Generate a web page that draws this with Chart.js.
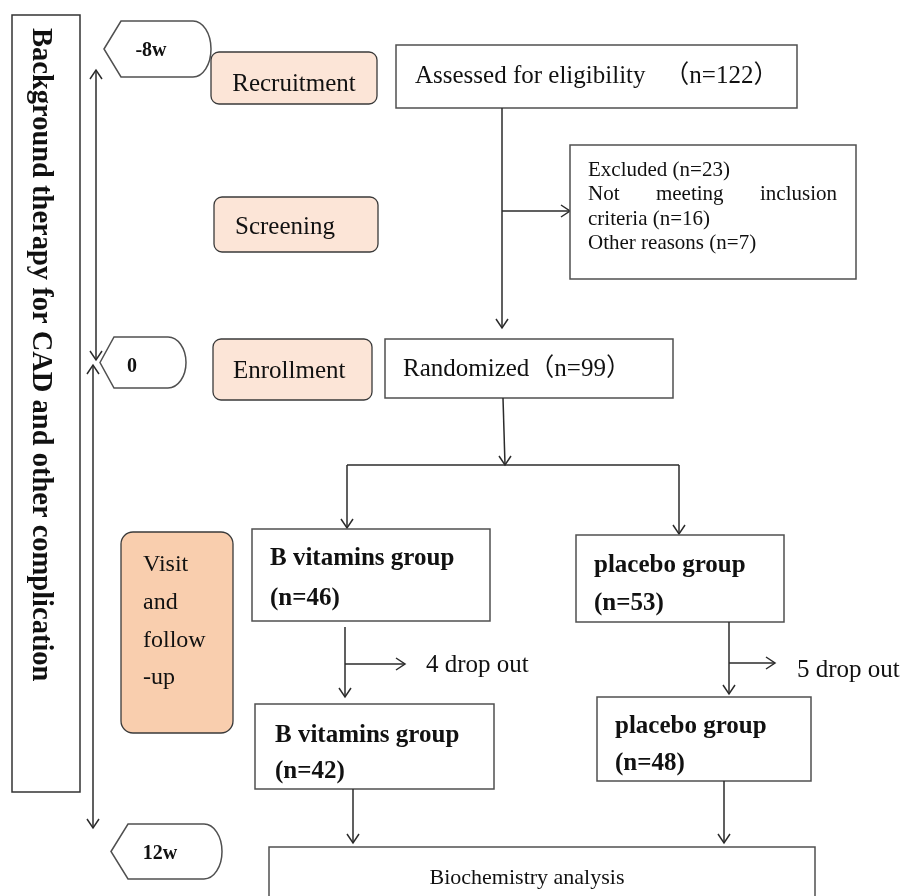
<!DOCTYPE html>
<html>
<head>
<meta charset="utf-8">
<script src="https://cdn.jsdelivr.net/npm/chart.js@4"></script>
<style>
  html, body { margin: 0; padding: 0; background: #fff; }
  #wrap { width: 902px; height: 896px; }
</style>
</head>
<body>
<div id="wrap"><canvas id="flow" width="902" height="896"></canvas></div>
<script>
// ---- data ----
const stages = ["Recruitment", "Screening", "Enrollment"];
const visitStage = ["Visit", "and", "follow", "-up"];
const timepoints = ["-8w", "0", "12w"];
const assessedN = 122;
const excludedN = [23, 16, 7]; // total, not meeting inclusion criteria, other reasons
const randomizedN = 99;
const groups = ["B vitamins group", "placebo group"];
const enrolledN = [46, 53];
const dropOutN = [4, 5];
const completedN = [42, 48];
const sideNote = "Background therapy for CAD and other complication";
const finalStep = "Biochemistry analysis";

// ---- layout (chart units, x 0..902, y 0..896 top-down) ----
const layout = {
  sideBox: [12, 15, 80, 792],
  markers: [
    { tip: 104, xl: 121, xr: 211, top: 21, bottom: 77, tx: 151, ty: 56 },
    { tip: 100, xl: 114, xr: 186, top: 337, bottom: 388, tx: 132, ty: 372 },
    { tip: 111, xl: 128, xr: 222, top: 824, bottom: 879, tx: 160, ty: 859 }
  ],
  stageBoxes: [[211, 52, 377, 104], [214, 197, 378, 252], [213, 339, 372, 400]],
  stageText: [[294, 91, "center"], [235, 234, "left"], [233, 378, "left"]],
  visitBox: [121, 532, 233, 733],
  visitText: [143, [571, 609, 647, 684]],
  assessed: [396, 45, 797, 108],
  excluded: [570, 145, 856, 279],
  randomized: [385, 339, 673, 398],
  groupBoxes: [[252, 529, 490, 621], [576, 535, 784, 622]],
  groupText: [[270, 565, 605], [594, 572, 610]],
  finalBoxes: [[255, 704, 494, 789], [597, 697, 811, 781]],
  finalText: [[275, 742, 778], [615, 733, 770]],
  bio: [269, 847, 815, 905]
};

const serif = '"Liberation Serif", "Times New Roman", "Noto Sans CJK SC", serif';
const lineColor = "#2b2b2b";
const boxColor = "#505050";

const flowPlugin = {
  id: "flow",
  afterDraw(chart) {
    const ctx = chart.ctx;
    const xs = chart.scales.x, ys = chart.scales.y;
    const X = v => xs.getPixelForValue(v);
    const Y = v => ys.getPixelForValue(v);

    function box(b, fill, radius, stroke, lw) {
      const x0 = X(b[0]), y0 = Y(b[1]), x1 = X(b[2]), y1 = Y(b[3]);
      ctx.beginPath();
      if (radius) ctx.roundRect(x0, y0, x1 - x0, y1 - y0, radius);
      else ctx.rect(x0, y0, x1 - x0, y1 - y0);
      if (fill) { ctx.fillStyle = fill; ctx.fill(); }
      ctx.strokeStyle = stroke || boxColor;
      ctx.lineWidth = lw || 1.5;
      ctx.stroke();
    }
    function head(x, y, dir) {
      const L = 9, W = 6;
      const px = X(x), py = Y(y);
      ctx.beginPath();
      if (dir === "down") { ctx.moveTo(px - W, py - L); ctx.lineTo(px, py); ctx.lineTo(px + W, py - L); }
      if (dir === "up") { ctx.moveTo(px - W, py + L); ctx.lineTo(px, py); ctx.lineTo(px + W, py + L); }
      if (dir === "right") { ctx.moveTo(px - L, py - W); ctx.lineTo(px, py); ctx.lineTo(px - L, py + W); }
      ctx.stroke();
    }
    function arrow(x0, y0, x1, y1, heads) {
      ctx.strokeStyle = lineColor;
      ctx.lineWidth = 1.5;
      ctx.beginPath();
      ctx.moveTo(X(x0), Y(y0));
      ctx.lineTo(X(x1), Y(y1));
      ctx.stroke();
      (heads || []).forEach(h => h === "start" ? head(x0, y0, y1 > y0 ? "up" : "left") : head(x1, y1, y1 > y0 ? "down" : (x1 > x0 ? "right" : "up")));
    }
    function text(s, x, y, font, align) {
      ctx.font = font;
      ctx.fillStyle = "#111";
      ctx.textAlign = align || "left";
      ctx.textBaseline = "alphabetic";
      ctx.fillText(s, X(x), Y(y));
    }
    function justify(words, x0, x1, y, font) {
      ctx.font = font;
      const widths = words.map(w => ctx.measureText(w).width);
      const gap = (X(x1) - X(x0) - widths.reduce((a, b) => a + b, 0)) / (words.length - 1);
      let px = X(x0);
      ctx.fillStyle = "#111";
      ctx.textAlign = "left";
      words.forEach((w, i) => { ctx.fillText(w, px, Y(y)); px += widths[i] + gap; });
    }
    function marker(m, label) {
      const h = m.bottom - m.top, cy = (m.top + m.bottom) / 2, rx = 18;
      ctx.beginPath();
      ctx.moveTo(X(m.tip), Y(cy));
      ctx.lineTo(X(m.xl), Y(m.top));
      ctx.lineTo(X(m.xr - rx), Y(m.top));
      ctx.ellipse(X(m.xr - rx), Y(cy), rx, h / 2, 0, -Math.PI / 2, Math.PI / 2);
      ctx.lineTo(X(m.xl), Y(m.bottom));
      ctx.closePath();
      ctx.fillStyle = "#fff";
      ctx.fill();
      ctx.strokeStyle = boxColor;
      ctx.lineWidth = 1.5;
      ctx.stroke();
      text(label, m.tx, m.ty, "bold 20px " + serif, "center");
    }

    ctx.save();
    ctx.fillStyle = "#fff";
    ctx.fillRect(0, 0, chart.width, chart.height);

    // side note box with rotated text
    box(layout.sideBox, "#fff", 0, "#333", 1.5);
    ctx.save();
    ctx.translate(X(33), Y(28));
    ctx.rotate(Math.PI / 2);
    ctx.font = "bold 28.5px " + serif;
    ctx.fillStyle = "#111";
    ctx.textAlign = "left";
    ctx.textBaseline = "alphabetic";
    ctx.fillText(sideNote, 0, 0);
    ctx.restore();

    // timeline
    arrow(96, 70, 96, 360, ["start", "end"]);
    arrow(93, 365, 93, 828, ["start", "end"]);
    timepoints.forEach((t, i) => marker(layout.markers[i], t));

    // stage boxes
    const reg = "25px " + serif;
    stages.forEach((s, i) => {
      box(layout.stageBoxes[i], "#fce5d7", 8, "#3a3a3a", 1.3);
      const t = layout.stageText[i];
      text(s, t[0], t[1], reg, t[2]);
    });
    box(layout.visitBox, "#f9ceae", 12, "#3a3a3a", 1.3);
    visitStage.forEach((s, i) => text(s, layout.visitText[0], layout.visitText[1][i], "24px " + serif));

    // flow
    box(layout.assessed, "#fff");
    text("Assessed for eligibility \u3000\uff08n=" + assessedN + "\uff09", 415, 83, reg);
    arrow(502, 108, 502, 328, ["end"]);
    arrow(502, 211, 570, 211, ["end"]);

    box(layout.excluded, "#fff");
    const ex = "21px " + serif;
    text("Excluded (n=" + excludedN[0] + ")", 588, 176, ex);
    justify(["Not", "meeting", "inclusion"], 588, 837, 200, ex);
    text("criteria (n=" + excludedN[1] + ")", 588, 225, ex);
    text("Other reasons (n=" + excludedN[2] + ")", 588, 249, ex);

    box(layout.randomized, "#fff");
    text("Randomized\uff08n=" + randomizedN + "\uff09", 403, 376, reg);
    arrow(503, 398, 505, 465, ["end"]);
    arrow(347, 465, 679, 465);
    arrow(347, 465, 347, 528, ["end"]);
    arrow(679, 465, 679, 534, ["end"]);

    const bold = "bold 25px " + serif;
    groups.forEach((g, i) => {
      box(layout.groupBoxes[i], "#fff");
      const t = layout.groupText[i];
      text(g, t[0], t[1], bold);
      text("(n=" + enrolledN[i] + ")", t[0], t[2], bold);
      box(layout.finalBoxes[i], "#fff");
      const f = layout.finalText[i];
      text(g, f[0], f[1], bold);
      text("(n=" + completedN[i] + ")", f[0], f[2], bold);
    });

    // drop outs
    arrow(345, 627, 345, 697, ["end"]);
    arrow(345, 664, 405, 664, ["end"]);
    text(dropOutN[0] + " drop out", 426, 672, reg);
    arrow(729, 622, 729, 694, ["end"]);
    arrow(729, 663, 775, 663, ["end"]);
    text(dropOutN[1] + " drop out", 797, 677, reg);

    // to final analysis
    arrow(353, 789, 353, 843, ["end"]);
    arrow(724, 781, 724, 843, ["end"]);
    box(layout.bio, "#fff");
    text(finalStep, 527, 884, "22px " + serif, "center");
    ctx.restore();
  }
};

new Chart(document.getElementById("flow"), {
  type: "scatter",
  data: { datasets: [{ data: [], pointRadius: 0 }] },
  options: {
    responsive: false,
    animation: false,
    layout: { padding: 0 },
    plugins: { legend: { display: false }, tooltip: { enabled: false } },
    scales: {
      x: { type: "linear", min: 0, max: 902, display: false },
      y: { type: "linear", min: 0, max: 896, reverse: true, display: false }
    }
  },
  plugins: [flowPlugin]
});
</script>
</body>
</html>
